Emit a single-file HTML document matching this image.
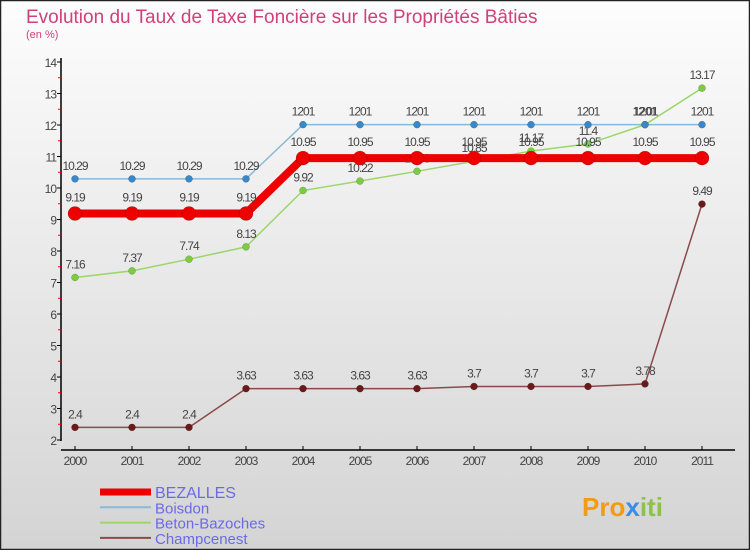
<!DOCTYPE html>
<html><head><meta charset="utf-8"><style>
body{margin:0;width:750px;height:550px;overflow:hidden;font-family:"Liberation Sans",sans-serif}
</style></head><body>
<svg id="c" width="750" height="550" xmlns="http://www.w3.org/2000/svg">
<defs><linearGradient id="bg" x1="0" y1="0" x2="0" y2="1"><stop offset="0" stop-color="#fdfdfd"/><stop offset="1" stop-color="#d4d4d4"/></linearGradient></defs>
<rect x="0.5" y="0.5" width="749" height="549" fill="url(#bg)" stroke="#222" stroke-width="1.5"/>
<text x="26" y="23" font-size="19" fill="#d0407a">Evolution du Taux de Taxe Foncière sur les Propriétés Bâties</text>
<text x="26" y="38" font-size="11" fill="#d0407a">(en %)</text>
<g id="axes"></g><g id="series"></g><g id="legend"></g>
<text x="582" y="516" font-size="26" font-weight="bold" fill="#f39c12">Pro<tspan fill="#3a8ee6">x</tspan><tspan fill="#8bc34a">iti</tspan></text>
</svg>
<script>
const years=["2000","2001","2002","2003","2004","2005","2006","2007","2008","2009","2010","2011"];
const yTicks=[2,3,4,5,6,7,8,9,10,11,12,13,14];
const bezalles=[9.19,9.19,9.19,9.19,10.95,10.95,10.95,10.95,10.95,10.95,10.95,10.95];
const boisdon=[10.29,10.29,10.29,10.29,12.01,12.01,12.01,12.01,12.01,12.01,12.01,12.01];
const beton=[7.16,7.37,7.74,8.13,9.92,10.22,10.53,10.85,11.17,11.4,12.01,13.17];
const champ=[2.4,2.4,2.4,3.63,3.63,3.63,3.63,3.7,3.7,3.7,3.78,9.49];
const boisLbl=["10.29","10.29","10.29","10.29","1201","1201","1201","1201","1201","1201","1201","1201"];
const NS="http://www.w3.org/2000/svg";
const X=i=>75+i*57, Y=v=>440-(v-2)*31.5;
function mk(p,t,a){const e=document.createElementNS(NS,t);for(const k in a)e.setAttribute(k,a[k]);p.appendChild(e);return e;}
const ax=document.getElementById('axes'),se=document.getElementById('series'),lg=document.getElementById('legend');
let l=mk(ax,'line',{x1:61,y1:58,x2:61,y2:441,stroke:'#000','stroke-width':1.5});

l=mk(ax,'line',{x1:61,y1:450,x2:735,y2:450,stroke:'#000','stroke-width':1.5});

yTicks.forEach((v,i)=>{let t=mk(ax,'line',{x1:57,x2:61,y1:Y(v),y2:Y(v),stroke:'#000'});

if(i<yTicks.length-1){let m=mk(ax,'line',{x1:58,x2:61,y1:Y(v+0.5),y2:Y(v+0.5),stroke:'red'});}
let tx=mk(ax,'text',{x:56,y:Y(v)+5,'text-anchor':'end','font-size':12,fill:'#444','letter-spacing':'-1'});tx.textContent=v;
});
years.forEach((y,i)=>{let t=mk(ax,'line',{x1:X(i),x2:X(i),y1:446,y2:450,stroke:'#000'});

let tx=mk(ax,'text',{x:X(i),y:465,'text-anchor':'middle','font-size':12,fill:'#444','letter-spacing':'-1'});tx.textContent=y;
});
function draw(name,data,lbls,color,w,r,fill,dy){
 const g=mk(se,'g',{});
 let p=mk(g,'polyline',{points:data.map((v,i)=>X(i)+','+Y(v)).join(' '),fill:'none',stroke:color,'stroke-width':w});
 
 data.forEach((v,i)=>{let c=mk(g,'circle',{cx:X(i),cy:Y(v),r:r,fill:fill,stroke:'rgba(0,0,0,0.3)','stroke-width':0.5});
 
 let t=mk(g,'text',{x:X(i),y:Y(v)-dy,'text-anchor':'middle','font-size':12,fill:'#444','letter-spacing':'-1'});t.textContent=lbls?lbls[i]:String(v);
 });
}
draw('champcenest',champ,null,'#8a4a4a',1.5,3.5,'#6b1a1a',9);
draw('beton-bazoches',beton,null,'#9ad66a',1.5,3.5,'#7ccc40',9);
draw('boisdon',boisdon,boisLbl,'#8ab8d8',1.5,3.5,'#3a88c8',9);
draw('bezalles',bezalles,null,'#ee0000',8,7,'#ee0000',12);
const names=["BEZALLES","Boisdon","Beton-Bazoches","Champcenest"],cols=["#ee0000","#8ab8d8","#9ad66a","#8a4a4a"],ws=[7,2,2,2];
names.forEach((n,i)=>{const yy=492+i*15.3;
 let li=mk(lg,'line',{x1:100,x2:151,y1:yy,y2:yy,stroke:cols[i],'stroke-width':ws[i]});
 
 let t=mk(lg,'text',{x:155,y:yy+6,'font-size':i==0?16:15,fill:'#6a6ae8'});t.textContent=n;
 });
</script>
</body></html>
